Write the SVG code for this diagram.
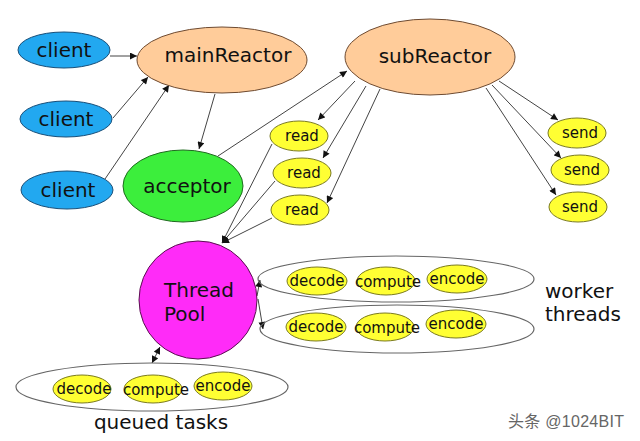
<svg xmlns="http://www.w3.org/2000/svg" width="640" height="441" viewBox="0 0 640 441">
<defs>
<marker id="ah" viewBox="0 0 10 10" refX="10" refY="5" markerWidth="8" markerHeight="7" markerUnits="userSpaceOnUse" orient="auto-start-reverse">
<path d="M0,0 L10,5 L0,10 z" fill="#111"/>
</marker>
<style>
text{font-family:"DejaVu Sans","Liberation Sans",sans-serif;fill:#111}
.client{fill:#22a8f0;stroke:#1b4f78;stroke-width:1}
.reactor{fill:#ffcc9a;stroke:#6e4a30;stroke-width:1}
.acc{fill:#3cee3c;stroke:#1f6a1f;stroke-width:1}
.pool{fill:#ff2bf8;stroke:#5a1050;stroke-width:1}
.y{fill:#ffff33;stroke:#7a7a20;stroke-width:1}
.grp{fill:none;stroke:#666;stroke-width:1.2}
.big{font-size:20px}
.mid{font-size:20px}
.sm{font-size:15px}
.c{text-anchor:middle}
.conn line{stroke:#444;stroke-width:1;marker-end:url(#ah)}
</style>
</defs>
<rect width="640" height="441" fill="#fff"/>

<g id="connectors" class="conn">
<line x1="110" y1="56" x2="137" y2="56"/>
<line x1="113" y1="118" x2="148" y2="77"/>
<line x1="105" y1="179" x2="169" y2="85"/>
<line x1="215" y1="94" x2="199" y2="149"/>
<line x1="218" y1="156" x2="347" y2="71"/>
<line x1="355" y1="81" x2="318" y2="120"/>
<line x1="366" y1="86" x2="323" y2="158"/>
<line x1="380" y1="89" x2="327" y2="203"/>
<line x1="272" y1="144" x2="222" y2="243"/>
<line x1="275" y1="181" x2="222" y2="243"/>
<line x1="272" y1="218" x2="222" y2="243"/>
<line x1="499" y1="81" x2="558" y2="120"/>
<line x1="492" y1="85" x2="561" y2="158"/>
<line x1="486" y1="88" x2="556" y2="195"/>
<line x1="257" y1="296" x2="260" y2="280"/>
<line x1="258" y1="299" x2="263" y2="329"/>
<line x1="152" y1="363" x2="160" y2="347" marker-start="url(#ah)"/>
</g>

<g id="client1"><ellipse class="client" cx="64" cy="50" rx="46" ry="18"/><text class="mid c" x="64" y="57">client</text></g>
<g id="client2"><ellipse class="client" cx="66" cy="119" rx="46" ry="18"/><text class="mid c" x="66" y="126">client</text></g>
<g id="client3"><ellipse class="client" cx="67" cy="190" rx="46" ry="19"/><text class="mid c" x="68" y="197">client</text></g>

<g id="mainReactor"><ellipse class="reactor" cx="222" cy="60" rx="85" ry="33"/><text class="big c" x="228" y="62">mainReactor</text></g>
<g id="subReactor"><ellipse class="reactor" cx="430" cy="57" rx="85" ry="38"/><text class="big c" x="435" y="63">subReactor</text></g>
<g id="acceptor"><ellipse class="acc" cx="183" cy="186" rx="60" ry="36"/><text class="big c" x="187" y="193">acceptor</text></g>

<g id="read1"><ellipse class="y" cx="299" cy="136" rx="29" ry="15"/><text class="sm c" x="302" y="141">read</text></g>
<g id="read2"><ellipse class="y" cx="302" cy="173" rx="29" ry="15"/><text class="sm c" x="304" y="178">read</text></g>
<g id="read3"><ellipse class="y" cx="300" cy="210" rx="29" ry="15"/><text class="sm c" x="302" y="215">read</text></g>

<g id="send1"><ellipse class="y" cx="577" cy="133" rx="29" ry="15"/><text class="sm c" x="580" y="138">send</text></g>
<g id="send2"><ellipse class="y" cx="580" cy="170" rx="29" ry="15"/><text class="sm c" x="582" y="175">send</text></g>
<g id="send3"><ellipse class="y" cx="578" cy="207" rx="29" ry="15"/><text class="sm c" x="580" y="212">send</text></g>

<g id="threadPool"><circle class="pool" cx="198" cy="300" r="59"/><text class="big" x="164" y="297">Thread</text><text class="big" x="164" y="321">Pool</text></g>

<g id="worker1">
<ellipse class="grp" cx="396" cy="279" rx="138" ry="23"/>
<ellipse class="y" cx="317" cy="281" rx="30" ry="14"/><text class="sm c" x="317" y="286">decode</text>
<ellipse class="y" cx="386" cy="281" rx="29" ry="14"/><text class="sm c" x="388" y="287">compute</text>
<ellipse class="y" cx="457" cy="279" rx="30" ry="14"/><text class="sm c" x="457" y="284">encode</text>
</g>
<g id="worker2">
<ellipse class="grp" cx="397" cy="329" rx="137" ry="24"/>
<ellipse class="y" cx="316" cy="327" rx="30" ry="14"/><text class="sm c" x="316" y="332">decode</text>
<ellipse class="y" cx="385" cy="327" rx="29" ry="14"/><text class="sm c" x="387" y="333">compute</text>
<ellipse class="y" cx="456" cy="324" rx="30" ry="14"/><text class="sm c" x="456" y="329">encode</text>
</g>
<g id="workerLabel"><text class="big" x="545" y="298">worker</text><text class="big" x="545" y="321">threads</text></g>

<g id="queued">
<ellipse class="grp" cx="152" cy="387" rx="136" ry="24"/>
<ellipse class="y" cx="82" cy="389" rx="29" ry="14"/><text class="sm c" x="84" y="394">decode</text>
<ellipse class="y" cx="153" cy="389" rx="29" ry="14"/><text class="sm c" x="156" y="395">compute</text>
<ellipse class="y" cx="223" cy="386" rx="29" ry="14"/><text class="sm c" x="223" y="391">encode</text>
</g>
<g id="queuedLabel"><text class="big c" x="161" y="429">queued tasks</text></g>

<text x="508" y="427" style="font-family:'Liberation Sans','Noto Sans CJK SC',sans-serif;font-size:16px;fill:#666" textLength="116">头条 @1024BIT</text>
</svg>
